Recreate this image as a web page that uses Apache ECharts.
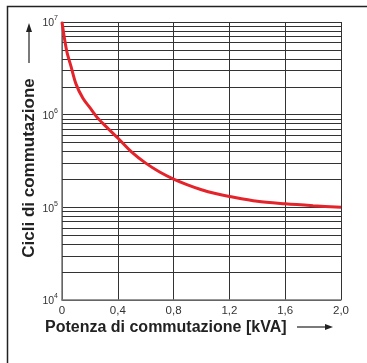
<!DOCTYPE html>
<html><head><meta charset="utf-8">
<script src="https://cdn.jsdelivr.net/npm/echarts@6/dist/echarts.min.js"></script>
<style>html,body{margin:0;padding:0;background:#fff}#c{width:367px;height:363px}</style>
</head><body><div id="c"></div>
<script>
const powerKVA = [0, 0.018, 0.036, 0.065, 0.1, 0.15, 0.2, 0.25, 0.3, 0.4, 0.5, 0.6, 0.7, 0.8, 0.9, 1.0, 1.1, 1.2, 1.4, 1.6, 1.8, 2.0];
const cycles = [1e7, 6.6e6, 4.7e6, 3.3e6, 2.15e6, 1.5e6, 1.19e6, 9.4e5, 7.85e5, 5.6e5, 3.94e5, 3.0e5, 2.41e5, 2.02e5, 1.75e5, 1.55e5, 1.41e5, 1.31e5, 1.16e5, 1.09e5, 1.04e5, 1.0e5];
const xTickLabels = ['0', '0,4', '0,8', '1,2', '1,6', '2,0'];
const decadeExponents = [4, 5, 6];
const minorMultipliers = [2, 3, 4, 5, 6, 7, 8, 9];
const xTitle = 'Potenza di commutazione [kVA]';
const yTitle = 'Cicli di commutazione';

const minorGrid = [];
decadeExponents.forEach(e => minorMultipliers.forEach(m => minorGrid.push(m * Math.pow(10, e))));

const chart = echarts.init(document.getElementById('c'), null, {renderer: 'canvas'});
const font = '"Liberation Sans", Arial, Helvetica, sans-serif';
chart.setOption({
  animation: false,
  backgroundColor: '#fff',
  grid: {left: 62, right: 26, top: 22, bottom: 63, containLabel: false},
  xAxis: {
    type: 'value', min: 0, max: 2, interval: 0.4,
    axisLine: {show: true, lineStyle: {color: '#777', width: 1.5}},
    axisTick: {show: false},
    axisLabel: {
      margin: 5, color: '#333', fontSize: 11.5, fontFamily: font,
      formatter: v => xTickLabels[Math.round(v / 0.4)]
    },
    splitLine: {show: true, lineStyle: {color: '#333', width: 1}}
  },
  yAxis: {
    type: 'log', logBase: 10, min: 1e4, max: 1e7,
    axisLine: {show: true, lineStyle: {color: '#777', width: 1.5}},
    axisTick: {show: false},
    axisLabel: {
      margin: 4, color: '#333', fontFamily: font,
      formatter: v => '{b|10}{s|' + Math.round(Math.log10(v)) + '}',
      rich: {
        b: {fontSize: 10.5, fontFamily: font, color: '#333', lineHeight: 14, verticalAlign: 'bottom'},
        s: {fontSize: 7, fontFamily: font, color: '#333', lineHeight: 14, verticalAlign: 'top'}
      }
    },
    splitLine: {show: true, lineStyle: {color: '#333', width: 1}}
  },
  series: [{
    type: 'line',
    data: powerKVA.map((x, i) => [x, cycles[i]]),
    smooth: 0.3,
    showSymbol: false,
    symbol: 'none',
    lineStyle: {color: '#e5232b', width: 3},
    z: 5,
    markLine: {
      silent: true, symbol: ['none', 'none'], label: {show: false},
      lineStyle: {color: '#333', width: 1, type: 'solid'},
      z: 1,
      data: minorGrid.map(v => ({yAxis: v}))
    }
  }],
  graphic: [
    {type: 'polyline', shape: {points: [[7.5, 363], [7.5, 6.5], [367, 6.5]]}, style: {stroke: '#222', lineWidth: 1.5, fill: null}},
    {type: 'line', shape: {x1: 29, y1: 63, x2: 29, y2: 30}, style: {stroke: '#222', lineWidth: 1.2}},
    {type: 'polygon', shape: {points: [[29, 23], [26, 32], [32, 32]]}, style: {fill: '#222'}},
    {type: 'text', x: 29, y: 168, rotation: Math.PI / 2,
      style: {text: yTitle, font: 'bold 17px ' + font, fill: '#222', textAlign: 'center', textVerticalAlign: 'middle'}},
    {type: 'text', x: 45, y: 328,
      style: {text: xTitle, font: 'bold 16px ' + font, fill: '#222', textAlign: 'left', textVerticalAlign: 'middle'}},
    {type: 'line', shape: {x1: 297, y1: 327, x2: 326, y2: 327}, style: {stroke: '#222', lineWidth: 1.2}},
    {type: 'polygon', shape: {points: [[333, 327], [325, 324], [325, 330]]}, style: {fill: '#222'}}
  ]
});
</script>
</body></html>
